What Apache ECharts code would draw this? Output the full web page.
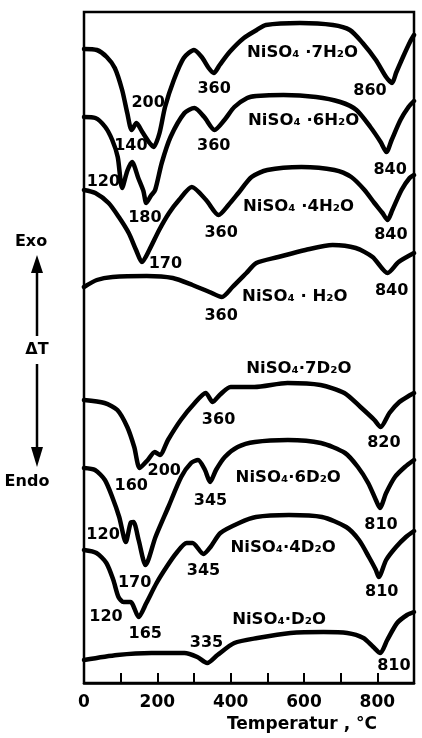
<!DOCTYPE html>
<html><head><meta charset="utf-8">
<script src="https://cdn.jsdelivr.net/npm/echarts@6/dist/echarts.min.js"></script>
<style>html,body{margin:0;padding:0;background:#fff}#c{width:422px;height:738px}</style>
</head><body><div id="c"></div>
<script>
// Temperature (°C) vs. DTA signal (arbitrary offset units, curves stacked)
const xTicks = [0, 200, 400, 600, 800];

const c7H2O = [[0,634],[35,633],[62,626],[84,615],[104,593],[118,570],[130,553],[143,560],[159,551],[179,540],[190,536],[206,550],[221,576],[245,603],[272,625],[300,633],[321,626],[340,615],[354,610],[370,618],[397,631],[436,645],[471,653],[496,658],[589,660],[679,658],[725,653],[760,640],[796,623],[824,606],[840,600],[851,610],[870,626],[889,641],[900,648]];
const c6H2O = [[0,566],[31,565],[58,556],[77,543],[92,526],[104,495],[118,512],[131,521],[148,505],[162,492],[170,480],[182,487],[194,493],[212,520],[236,546],[274,570],[301,575],[328,566],[356,553],[383,563],[410,576],[445,585],[470,587],[544,588],[633,586],[699,581],[743,573],[781,556],[809,541],[825,531],[839,543],[863,563],[885,576],[900,582]];
const c4H2O = [[0,493],[31,490],[67,480],[95,466],[122,450],[142,433],[158,421],[178,433],[205,453],[232,470],[259,483],[294,496],[333,483],[367,468],[394,478],[421,490],[457,506],[500,513],[593,516],[683,513],[729,506],[765,493],[792,480],[814,470],[828,463],[841,473],[866,493],[888,505],[900,508]];
const cH2O = [[0,396],[35,403],[78,406],[171,407],[242,405],[296,398],[342,391],[376,386],[405,396],[443,410],[470,420],[530,426],[604,433],[678,438],[741,435],[787,426],[828,410],[858,421],[900,430]];
const c7D2O = [[0,283],[56,280],[91,273],[118,256],[137,236],[152,215],[174,223],[193,231],[207,228],[229,243],[264,263],[302,280],[332,290],[351,281],[370,288],[400,296],[465,296],[555,300],[645,298],[710,290],[754,276],[792,263],[809,256],[833,270],[860,281],[890,288],[900,290]];
const c6D2O = [[0,215],[30,213],[57,203],[77,186],[96,166],[114,141],[127,160],[135,161],[149,143],[168,118],[195,146],[230,176],[265,206],[292,220],[311,223],[330,213],[344,201],[360,213],[384,226],[419,236],[466,241],[556,243],[646,240],[712,230],[747,216],[775,200],[796,183],[807,175],[824,190],[848,206],[875,216],[900,223]];
const c4D2O = [[0,133],[34,130],[61,120],[80,103],[94,86],[108,81],[127,81],[149,66],[170,80],[198,100],[225,116],[252,130],[280,140],[296,140],[326,129],[345,136],[372,150],[423,160],[469,166],[559,168],[649,166],[715,156],[750,143],[777,126],[796,113],[804,106],[824,123],[851,136],[878,146],[900,152]];
const cD2O = [[0,23],[91,28],[184,30],[274,30],[309,26],[336,20],[364,28],[410,40],[473,45],[563,50],[653,51],[718,50],[762,45],[789,36],[808,30],[827,43],[854,60],[881,68],[900,71]];

// labels: [temperature, offset, text]
const lab7H2O = [[596,630,'NiSO₄ ·7H₂O'],[175,580,'200'],[128,537,'140'],[355,594,'360'],[780,592,'860']];
const lab6H2O = [[599,562,'NiSO₄ ·6H₂O'],[53,501,'120'],[166,465,'180'],[354,537,'360'],[835,513,'840']];
const lab4H2O = [[585,476,'NiSO₄ ·4H₂O'],[222,419,'170'],[374,450,'360'],[837,448,'840']];
const labH2O  = [[575,386,'NiSO₄ · H₂O'],[374,367,'360'],[839,392,'840']];
const lab7D2O = [[586,314,'NiSO₄·7D₂O'],[367,263,'360'],[129,197,'160'],[219,212,'200'],[818,240,'820']];
const lab6D2O = [[557,205,'NiSO₄·6D₂O'],[52,148,'120'],[138,100,'170'],[345,182,'345'],[810,158,'810']];
const lab4D2O = [[543,135,'NiSO₄·4D₂O'],[60,66,'120'],[167,49,'165'],[326,112,'345'],[812,91,'810']];
const labD2O  = [[532,63,'NiSO₄·D₂O'],[334,40,'335'],[845,17,'810']];

const curves = [c7H2O,c6H2O,c4H2O,cH2O,c7D2O,c6D2O,c4D2O,cD2O];
const labels = [lab7H2O,lab6H2O,lab4H2O,labH2O,lab7D2O,lab6D2O,lab4D2O,labD2O];

const FONT = 'DejaVu Sans';
const series = curves.map((d,i)=>({
  type:'line', data:d, smooth:0.25, symbol:'none', silent:true,
  lineStyle:{color:'#000', width:4.5, join:'round', cap:'round'},
  markPoint:{
    symbol:'circle', symbolSize:0, silent:true,
    label:{show:true, position:'inside', color:'#000', fontFamily:FONT, fontWeight:'bold', fontSize:16},
    data: labels[i].map(l=>({coord:[l[0],l[1]], label:{formatter:l[2], fontSize: l[2].length>4 ? 16.5 : 16}}))
  }
}));

const chart = echarts.init(document.getElementById('c'), null, {renderer:'canvas'});
chart.setOption({
  animation:false,
  backgroundColor:'#fff',
  grid:{left:84, right:8, top:12, bottom:55, show:true, borderColor:'#000', borderWidth:2.5},
  xAxis:{type:'value', min:0, max:900, interval:100,
    axisLine:{show:true, lineStyle:{color:'#000', width:2.5}},
    axisTick:{show:true, inside:true, length:10, lineStyle:{color:'#000', width:2}},
    splitLine:{show:false},
    axisLabel:{color:'#000', fontFamily:FONT, fontWeight:'bold', fontSize:17, margin:11,
      formatter:v=> xTicks.indexOf(v)>=0 ? String(v) : ''}
  },
  yAxis:{type:'value', min:0, max:671, show:false},
  series:series,
  graphic:[
    {type:'text', x:302, y:725, style:{text:'Temperatur , °C', fill:'#000', font:'bold 17px "DejaVu Sans"', textAlign:'center', textVerticalAlign:'middle'}},
    {type:'text', x:31, y:242, style:{text:'Exo', fill:'#000', font:'bold 16px "DejaVu Sans"', textAlign:'center', textVerticalAlign:'middle'}},
    {type:'text', x:37, y:350, style:{text:'ΔT', fill:'#000', font:'bold 16px "DejaVu Sans"', textAlign:'center', textVerticalAlign:'middle'}},
    {type:'text', x:27, y:482, style:{text:'Endo', fill:'#000', font:'bold 16px "DejaVu Sans"', textAlign:'center', textVerticalAlign:'middle'}},
    {type:'line', shape:{x1:37,y1:270,x2:37,y2:336}, style:{stroke:'#000', lineWidth:2.5}},
    {type:'polygon', shape:{points:[[31,273],[43,273],[37,255]]}, style:{fill:'#000'}},
    {type:'line', shape:{x1:37,y1:364,x2:37,y2:450}, style:{stroke:'#000', lineWidth:2.5}},
    {type:'polygon', shape:{points:[[31,447],[43,447],[37,467]]}, style:{fill:'#000'}}
  ]
});
</script></body></html>
